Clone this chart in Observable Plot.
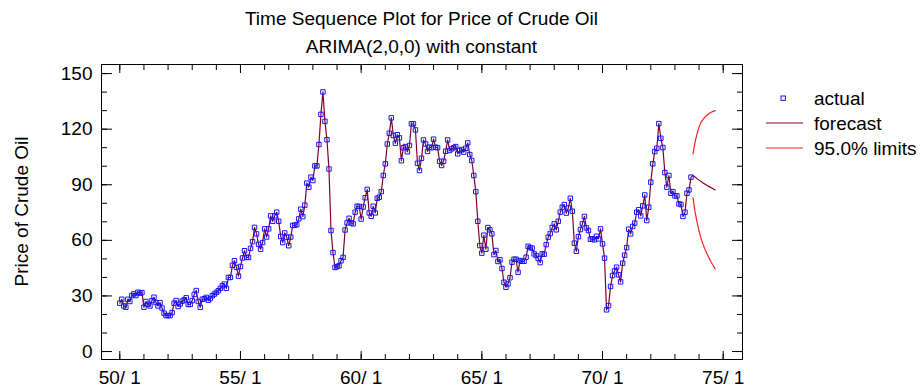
<!DOCTYPE html>
<html><head><meta charset="utf-8">
<script src="https://cdn.jsdelivr.net/npm/d3@7"></script>
<script src="https://cdn.jsdelivr.net/npm/@observablehq/plot@0.6"></script>
<style>html,body{margin:0;padding:0;background:#fff} svg{display:block}</style>
</head><body><div id="chart"></div>
<script>
const title = "Time Sequence Plot for Price of Crude Oil";
const subtitle = "ARIMA(2,0,0) with constant";
const yLabel = "Price of Crude Oil";
const legendLabels = ["actual", "forecast", "95.0% limits"];

// monthly observations, period 0 = 50/1
const actual = [
  26.1, 28.2, 24.6, 23.9, 28.2, 27, 30.2, 31.1, 30.2, 32, 31.5, 31.8,
  23.9, 27, 25.5, 24.6, 27.5, 29.3, 26.4, 24.6, 26.4, 23.5, 20.7, 19.4,
  19.4, 19.4, 21, 26.1, 27.5, 24.3, 25.7, 27.2, 27.9, 29, 25.4, 25.4,
  27.5, 30.8, 32.9, 27, 23.9, 28.2, 28.5, 29.2, 27.7, 28.6, 30.1, 31,
  31.9, 32.8, 34.1, 35.5, 36.4, 34.1, 40, 40, 46.5, 49, 45.4, 40.7,
  45.9, 50.5, 54.4, 50.8, 50.8, 55.7, 59.3, 67, 63.5, 57.9, 55.2, 58.8,
  66.2, 61.8, 66.2, 73.2, 70.3, 73.2, 75.2, 70.3, 62.1, 58.8, 64, 61.7,
  57.1, 61.8, 68.1, 68.1, 68.5, 71.6, 76.8, 72.8, 79, 90.9, 88.7, 94.1,
  92.3, 100.2, 100.2, 111.7, 128, 140.1, 124.2, 114.3, 98.5, 65.3, 53.4, 45.4,
  45.8, 46.3, 49, 50.8, 65.6, 69.4, 71.9, 69.4, 68.9, 75.2, 78.4, 78.3,
  71.5, 78, 83, 87.5, 74.8, 73, 78.4, 74.8, 82.7, 83.3, 86.3, 95,
  101.3, 112, 117.8, 126.1, 116.6, 112.4, 117, 115.3, 103, 110, 110.6, 107.8,
  111.2, 122.9, 122.9, 119.6, 101.6, 97.7, 104.3, 114.2, 112, 108, 110.3, 110,
  114.6, 110.3, 110, 102.7, 100.4, 102.7, 108.1, 114.2, 108.5, 109.4, 110, 110.6,
  106.7, 108.5, 109, 107.6, 109.7, 112.6, 106.3, 103.1, 95, 86.3, 70.3, 57.2,
  53.1, 62.8, 55.2, 66.9, 65.7, 63.5, 52.3, 54.5, 48.6, 49.5, 44.8, 37.4,
  34.7, 36.5, 39.8, 48.2, 49.8, 49.8, 42.8, 49.1, 48.7, 48.7, 50.9, 56.8,
  56.1, 55.8, 52.7, 51.8, 50.2, 48, 52.7, 52.5, 57.7, 61.7, 63.7, 66.9,
  68.9, 65.7, 70.3, 75.2, 77.9, 79.3, 74.7, 77.5, 82.7, 75.7, 58.5, 54.1,
  62, 65.8, 68.9, 72.9, 66.7, 65.3, 60.6, 60.8, 60.3, 62.2, 60.8, 66.2,
  58.1, 50.4, 22.5, 24.8, 35.1, 41, 43.5, 45.5, 41.4, 37.6, 47.7, 52,
  56.1, 66, 63.5, 67.5, 69.3, 75.2, 76.5, 73.2, 78.6, 84.5, 70.7, 77.9,
  91.4, 101.3, 107.9, 109.7, 123, 115.1, 110.1, 96.6, 88.7, 95, 85.4, 86.3,
  84, 84, 79.7, 79.3, 72.9, 75.2, 85.4, 87.2, 94.1
];
// 12 forecast periods after the data
const forecast = [95, 94.2, 93.3, 92.5, 91.7, 91, 90.3, 89.6, 89, 88.4, 87.8, 87.2];
const upper    = [106.7, 113, 117.5, 121.2, 123.8, 125.3, 126.6, 127.6, 128.4, 129.1, 129.6, 130];
const lower    = [82.9, 75.5, 69.8, 65, 61, 57.8, 55, 52.6, 50.4, 48.3, 46.4, 44.6];

const xTickValues = [0, 60, 120, 180, 240, 300];
const xTickLabels = ["50/ 1", "55/ 1", "60/ 1", "65/ 1", "70/ 1", "75/ 1"];
const yTickValues = [0, 30, 60, 90, 120, 150];

const n = actual.length;
const actualRows = actual.map((v, i) => ({t: i, v}));
const fcRows = forecast.map((v, i) => ({t: n + i, v}));
const lineRows = actualRows.concat(fcRows);
const upperRows = upper.map((v, i) => ({t: n + i, v}));
const lowerRows = lower.map((v, i) => ({t: n + i, v}));

const FONT = "'Liberation Sans', Arial, Helvetica, sans-serif";
const W = 921, H = 387;
const ML = 101, MR = 179, MT = 64, MB = 28;
const lineColor = "#800030", limitColor = "#ff2020", pointColor = "#1414ff";

const yearTicks = d3.range(0, 301, 12);
const yMinor = d3.range(0, 151, 10);

const svg = Plot.plot({
  width: W, height: H,
  marginLeft: ML, marginRight: MR, marginTop: MT, marginBottom: MB,
  style: {fontFamily: FONT, fontSize: "19px", color: "#000", background: "#fff", overflow: "visible"},
  x: {domain: [-9.1, 309.6]},
  y: {domain: [-4.3, 154.9]},
  marks: [
    Plot.axisY(yMinor, {anchor: "left", tickSize: 6, insetLeft: 6, fill: "none", label: null}),
    Plot.axisY(yTickValues, {anchor: "left", tickSize: 11, insetLeft: 11, tickPadding: 9, label: null}),
    Plot.axisY(yMinor, {anchor: "right", tickSize: 6, insetRight: 6, fill: "none", label: null}),
    Plot.axisY(yTickValues, {anchor: "right", tickSize: 11, insetRight: 11, fill: "none", label: null}),
    Plot.axisX(yearTicks, {anchor: "bottom", tickSize: 5, insetBottom: 5, fill: "none", label: null}),
    Plot.axisX(xTickValues, {anchor: "bottom", tickSize: 8, insetBottom: 8, tickPadding: 11,
      tickFormat: d => xTickLabels[xTickValues.indexOf(d)], label: null}),
    Plot.axisX(yearTicks, {anchor: "top", tickSize: 5, insetTop: 5, fill: "none", label: null}),
    Plot.axisX(xTickValues, {anchor: "top", tickSize: 8, insetTop: 8, fill: "none", label: null}),
    Plot.line(lineRows, {x: "t", y: "v", stroke: lineColor, strokeWidth: 1.2}),
    Plot.line(upperRows, {x: "t", y: "v", stroke: limitColor, strokeWidth: 1.2}),
    Plot.line(lowerRows, {x: "t", y: "v", stroke: limitColor, strokeWidth: 1.2}),
    Plot.dot(actualRows, {x: "t", y: "v", symbol: "square", r: 2.5, stroke: pointColor, fill: "none", strokeWidth: 1}),
    Plot.frame({stroke: "#000", strokeWidth: 1})
  ]
});

const s = d3.select(svg);
const cx = ML + (W - ML - MR) / 2;
const txt = (x, y, t, anchor = "middle") => s.append("text")
  .attr("x", x).attr("y", y).attr("text-anchor", anchor)
  .attr("font-family", FONT).attr("font-size", 19).attr("fill", "#000").text(t);

txt(cx, 25, title);
txt(cx, 53, subtitle);
s.append("text")
  .attr("transform", `translate(28,${MT + (H - MT - MB) / 2}) rotate(-90)`)
  .attr("text-anchor", "middle").attr("font-family", FONT).attr("font-size", 19)
  .attr("fill", "#000").text(yLabel);

// legend
const lg = s.append("g");
lg.append("rect").attr("x", 781).attr("y", 96).attr("width", 4.4).attr("height", 4.4)
  .attr("fill", "none").attr("stroke", pointColor).attr("stroke-width", 1);
lg.append("line").attr("x1", 766).attr("x2", 803).attr("y1", 123).attr("y2", 123)
  .attr("stroke", lineColor).attr("stroke-width", 1.2);
lg.append("line").attr("x1", 766).attr("x2", 803).attr("y1", 148).attr("y2", 148)
  .attr("stroke", limitColor).attr("stroke-width", 1.2);
legendLabels.forEach((t, k) => {
  txt(814, 105 + 25 * k, t, "start");
});

document.getElementById("chart").appendChild(svg);
</script>
</body></html>
